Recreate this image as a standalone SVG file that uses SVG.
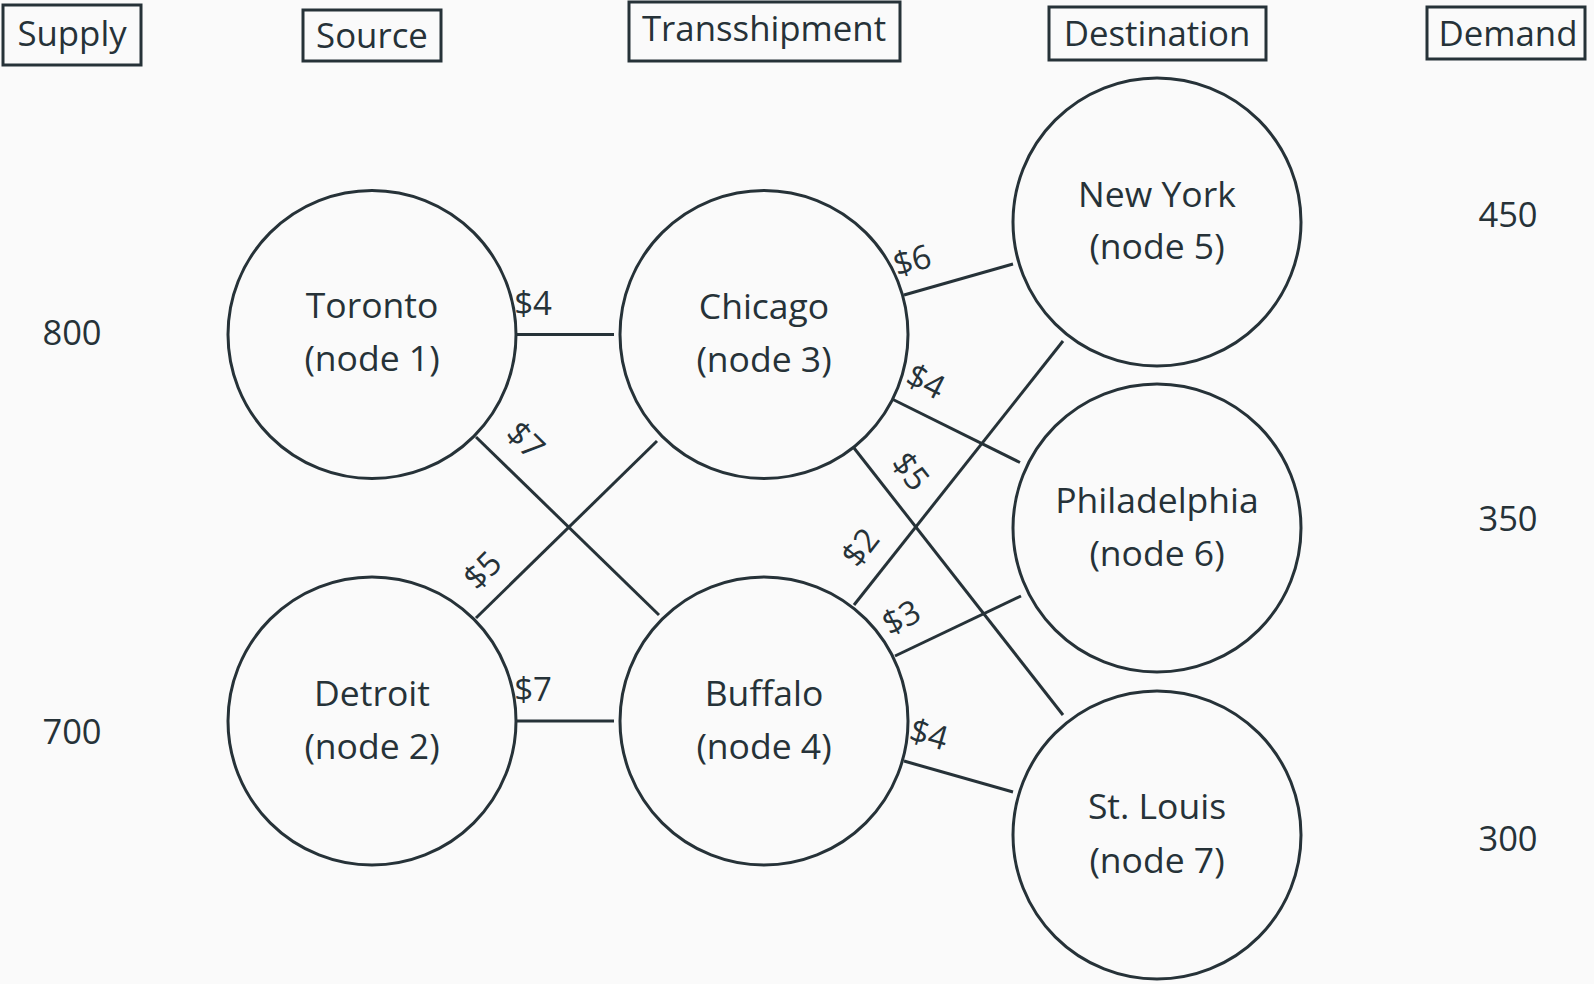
<svg xmlns="http://www.w3.org/2000/svg" width="1594" height="984" viewBox="0 0 1594 984">
<style>
text{font-family:"Open Sans","Noto Sans","DejaVu Sans",sans-serif;fill:#263238;font-size:35.5px;text-anchor:middle}
.n circle{fill:none;stroke:#263238;stroke-width:3}
.h rect{fill:none;stroke:#263238;stroke-width:3}
.h text{font-size:34.8px}
#edges line{stroke:#263238;stroke-width:3}
.c{font-size:33px}
.num{font-size:34.5px}
</style>
<rect width="1594" height="984" fill="#fafafa"/>
<g class="h" id="hdr-supply"><rect x="3" y="5" width="138" height="60"/><text x="72" y="46">Supply</text></g>
<g class="h" id="hdr-source"><rect x="303" y="10" width="138" height="51"/><text x="372" y="48">Source</text></g>
<g class="h" id="hdr-trans"><rect x="629" y="2" width="271" height="59"/><text x="764" y="41">Transshipment</text></g>
<g class="h" id="hdr-dest"><rect x="1049" y="7" width="217" height="53"/><text x="1157" y="46">Destination</text></g>
<g class="h" id="hdr-demand"><rect x="1427" y="7" width="158" height="52"/><text x="1508" y="46">Demand</text></g>

<g id="supply"><text class="num" x="72" y="345">800</text><text class="num" x="72" y="744">700</text></g>
<g id="demand"><text class="num" x="1508" y="227">450</text><text class="num" x="1508" y="531">350</text><text class="num" x="1508" y="851">300</text></g>

<g id="edges">
<line x1="516" y1="334.5" x2="614" y2="334.5"/>
<line x1="476" y1="437" x2="659" y2="615"/>
<line x1="476" y1="618" x2="657" y2="441"/>
<line x1="516" y1="721" x2="614" y2="721"/>
<line x1="904" y1="295" x2="1013" y2="264"/>
<line x1="893" y1="399.5" x2="1020" y2="462.5"/>
<line x1="854" y1="448" x2="1063" y2="715"/>
<line x1="854" y1="605" x2="1063" y2="341"/>
<line x1="895" y1="656" x2="1021" y2="596"/>
<line x1="904" y1="761" x2="1013" y2="792"/>
<g class="lbl">
<text class="c" x="533" y="315">$4</text>
<text class="c" transform="translate(526,440) rotate(45)" y="12">$7</text>
<text class="c" transform="translate(482,570) rotate(-45)" y="12">$5</text>
<text class="c" x="533" y="701">$7</text>
<text class="c" transform="translate(912,260) rotate(-16)" y="12">$6</text>
<text class="c" transform="translate(926,381) rotate(27)" y="12">$4</text>
<text class="c" transform="translate(911,471) rotate(52)" y="12">$5</text>
<text class="c" transform="translate(860,547) rotate(-52)" y="12">$2</text>
<text class="c" transform="translate(901,617) rotate(-27)" y="12">$3</text>
<text class="c" transform="translate(929,734) rotate(16)" y="12">$4</text>
</g>
</g>

<g class="n" id="node1"><circle cx="372" cy="334.5" r="144"/><text x="372" y="318">Toronto</text><text x="372" y="371">(node 1)</text></g>
<g class="n" id="node2"><circle cx="372" cy="721" r="144"/><text x="372" y="706">Detroit</text><text x="372" y="759">(node 2)</text></g>
<g class="n" id="node3"><circle cx="764" cy="334.5" r="144"/><text x="764" y="319">Chicago</text><text x="764" y="372">(node 3)</text></g>
<g class="n" id="node4"><circle cx="764" cy="721" r="144"/><text x="764" y="706">Buffalo</text><text x="764" y="759">(node 4)</text></g>
<g class="n" id="node5"><circle cx="1157" cy="222" r="144"/><text x="1157" y="207">New York</text><text x="1157" y="259">(node 5)</text></g>
<g class="n" id="node6"><circle cx="1157" cy="528" r="144"/><text x="1157" y="513">Philadelphia</text><text x="1157" y="566">(node 6)</text></g>
<g class="n" id="node7"><circle cx="1157" cy="835" r="144"/><text x="1157" y="819">St. Louis</text><text x="1157" y="873">(node 7)</text></g>
</svg>
